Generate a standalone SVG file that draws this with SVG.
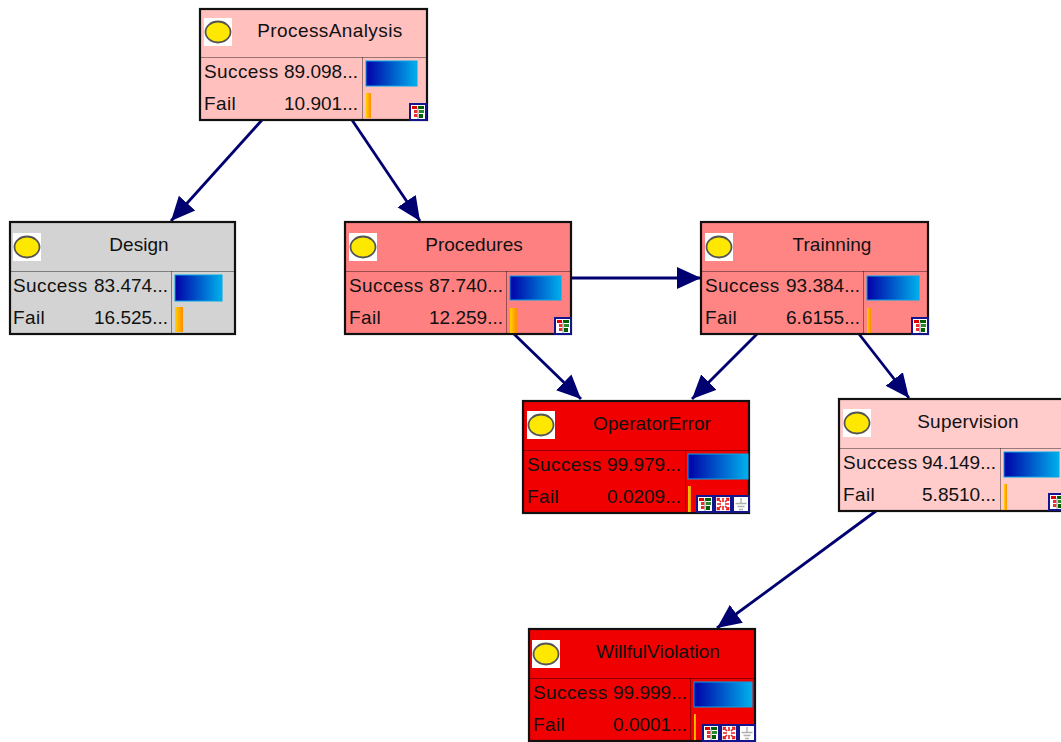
<svg xmlns="http://www.w3.org/2000/svg" width="1061" height="742" viewBox="0 0 1061 742">
<style>
text{font-family:"Liberation Sans",Arial,sans-serif;font-size:19px;fill:#111;letter-spacing:.4px}
.t{text-anchor:middle;letter-spacing:.05px}
.v{text-anchor:end;letter-spacing:0}
.box{stroke:#111;stroke-width:2.2}
.sep{stroke:#000;stroke-opacity:.4;stroke-width:1;fill:none}
.edge{stroke:#000070;stroke-width:2.8;fill:none;marker-end:url(#arrow)}
.blue{fill:url(#gb);stroke:#00a8e8;stroke-width:1}
.org{fill:url(#go)}
.ic{fill:#fff;stroke:#14148c;stroke-width:2}
</style>
<defs>
<linearGradient id="gb"><stop offset="0" stop-color="#0000a8"/><stop offset="1" stop-color="#00b0ec"/></linearGradient>
<linearGradient id="go"><stop offset="0" stop-color="#ffd000"/><stop offset="1" stop-color="#ff8c00"/></linearGradient>
<marker id="arrow" markerUnits="userSpaceOnUse" markerWidth="26" markerHeight="24" refX="24" refY="12" orient="auto"><path d="M0,1 L24,12 L0,23 Z" fill="#000070"/></marker>
<g id="oval"><rect x="0" y="0" width="28" height="28" fill="#fff"/><ellipse cx="14" cy="14" rx="12.5" ry="10.5" fill="#ffe800" stroke="#555" stroke-width="1.8"/></g>
<g id="ic1"><rect class="ic" x="1" y="1" width="16" height="16"/><rect x="3" y="3" width="5" height="3" fill="#e00000"/><rect x="9" y="3" width="6" height="3" fill="#006000"/><rect x="5" y="7" width="3.500" height="3" fill="#e83030"/><rect x="10" y="7" width="5" height="3" fill="#2a8a2a"/><rect x="5" y="11" width="3.500" height="3" fill="#e83030"/><rect x="10" y="11" width="4" height="4" fill="#006000"/><path d="M9,5V16" stroke="#999" stroke-width="1"/></g>
<g id="ic2"><rect class="ic" x="1" y="1" width="16" height="16"/><path d="M3,9H7M11,9H15M9,3V7M9,11V15M4.500,4.500L7,7M13.500,4.500L11,7M4.500,13.500L7,11M13.500,13.500L11,11M3.500,6V3.500H6M12,3.500H14.500V6M3.500,12V14.500H6M12,14.500H14.500V12" stroke="#e82020" stroke-width="1.600" fill="none"/></g>
<g id="ic3"><rect class="ic" x="1" y="1" width="16" height="16"/><path d="M9,3V8M3.500,8.500H14.500M5.500,11.500H12.500M7,14.500H11" stroke="#b0b0b0" stroke-width="1.400" fill="none"/></g>
</defs>
<rect width="1061" height="742" fill="#fff"/>
<g id="connectors">
<path class="edge" d="M262,120L171,221"/>
<path class="edge" d="M352,120L420,221"/>
<path class="edge" d="M571,278L701,278"/>
<path class="edge" d="M514,334L581,399"/>
<path class="edge" d="M757,334L692,399"/>
<path class="edge" d="M859,334L909,398"/>
<path class="edge" d="M876,511L717,628"/>
</g>
<g id="node-ProcessAnalysis">
<rect class="box" x="200" y="9" width="227" height="111" fill="#ffc0be"/>
<path class="sep" d="M200,57.500H427M362.500,57V120"/>
<use href="#oval" x="204" y="18"/>
<text class="t" x="330" y="37" style="letter-spacing:.4px">ProcessAnalysis</text>
<text x="204" y="78">Success</text><text class="v" x="358" y="78">89.098...</text>
<text x="204" y="110">Fail</text><text class="v" x="358" y="110">10.901...</text>
<rect class="blue" x="366" y="61" width="51" height="25"/><rect class="org" x="366" y="93" width="5" height="25"/>
<use href="#ic1" x="409" y="103"/>
</g>
<g id="node-Design">
<rect class="box" x="10" y="222" width="225" height="112" fill="#d3d3d3"/>
<path class="sep" d="M10,271.500H235M171.500,271V334"/>
<use href="#oval" x="13" y="233"/>
<text class="t" x="139" y="251">Design</text>
<text x="13" y="292">Success</text><text class="v" x="168" y="292">83.474...</text>
<text x="13" y="324">Fail</text><text class="v" x="168" y="324">16.525...</text>
<rect class="blue" x="175" y="275" width="47" height="26"/><rect class="org" x="175" y="307" width="8" height="25"/>
</g>
<g id="node-Procedures">
<rect class="box" x="345" y="222" width="226" height="112" fill="#ff8080"/>
<path class="sep" d="M345,271.500H571M506.500,271V334"/>
<use href="#oval" x="349" y="233"/>
<text class="t" x="474" y="251">Procedures</text>
<text x="349" y="292">Success</text><text class="v" x="503" y="292">87.740...</text>
<text x="349" y="324">Fail</text><text class="v" x="503" y="324">12.259...</text>
<rect class="blue" x="510" y="276" width="51" height="24"/><rect class="org" x="510" y="308" width="7" height="25"/>
<use href="#ic1" x="554" y="317"/>
</g>
<g id="node-Trainning">
<rect class="box" x="701" y="222" width="227" height="112" fill="#ff8585"/>
<path class="sep" d="M701,271.500H928M863.500,271V334"/>
<use href="#oval" x="705" y="233"/>
<text class="t" x="832" y="251">Trainning</text>
<text x="705" y="292">Success</text><text class="v" x="860" y="292">93.384...</text>
<text x="705" y="324">Fail</text><text class="v" x="860" y="324">6.6155...</text>
<rect class="blue" x="867" y="276" width="52" height="24"/><rect class="org" x="867" y="308" width="4" height="25"/>
<use href="#ic1" x="911" y="317"/>
</g>
<g id="node-OperatorError">
<rect class="box" x="523" y="401" width="226" height="112" fill="#f00000"/>
<path class="sep" d="M523,450.500H749M685.500,450V513"/>
<use href="#oval" x="527" y="411"/>
<text class="t" x="652" y="430">OperatorError</text>
<text x="527" y="471">Success</text><text class="v" x="681" y="471">99.979...</text>
<text x="527" y="503">Fail</text><text class="v" x="681" y="503">0.0209...</text>
<rect class="blue" x="688" y="454" width="60" height="25"/><rect class="org" x="688" y="486" width="3" height="26"/>
<use href="#ic1" x="696" y="495"/><use href="#ic2" x="714" y="495"/><use href="#ic3" x="732" y="495"/>
</g>
<g id="node-Supervision">
<rect class="box" x="839" y="399" width="224" height="112" fill="#ffcccb"/>
<path class="sep" d="M839,448.500H1061M1000.500,448V511"/>
<use href="#oval" x="843" y="409"/>
<text class="t" x="968" y="428" style="letter-spacing:.2px">Supervision</text>
<text x="843" y="469">Success</text><text class="v" x="996" y="469">94.149...</text>
<text x="843" y="501">Fail</text><text class="v" x="996" y="501">5.8510...</text>
<rect class="blue" x="1004" y="452" width="55" height="25"/><rect class="org" x="1004" y="484" width="3" height="26"/>
<use href="#ic1" x="1048" y="493"/>
</g>
<g id="node-WillfulViolation">
<rect class="box" x="529" y="629" width="226" height="112" fill="#f00000"/>
<path class="sep" d="M529,678.500H755M690.500,678V741"/>
<use href="#oval" x="532" y="640"/>
<text class="t" x="658" y="658">WillfulViolation</text>
<text x="533" y="699">Success</text><text class="v" x="687" y="699">99.999...</text>
<text x="533" y="731">Fail</text><text class="v" x="687" y="731">0.0001...</text>
<rect class="blue" x="694" y="682" width="58" height="25"/><rect class="org" x="694" y="714" width="2" height="26"/>
<use href="#ic1" x="702" y="724"/><use href="#ic2" x="720" y="724"/><use href="#ic3" x="738" y="724"/>
</g>
</svg>
